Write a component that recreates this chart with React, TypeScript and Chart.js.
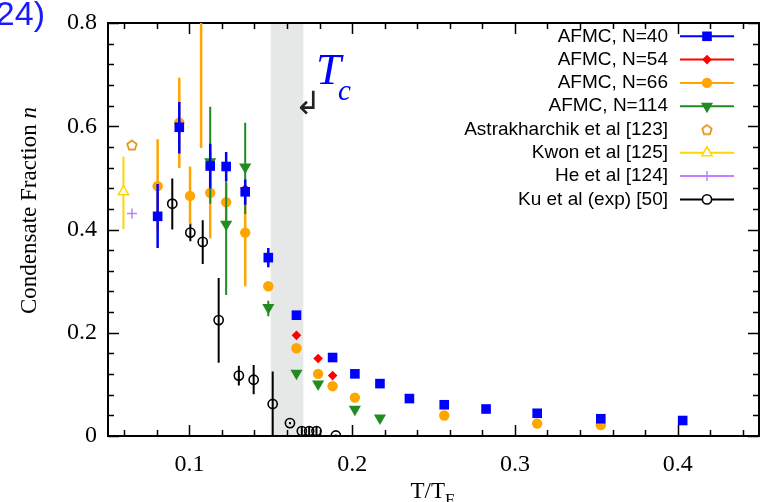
import React, { useEffect, useRef } from 'react';
import { Chart, registerables } from 'chart.js';
import { drawPoint } from 'chart.js/helpers';

Chart.register(...registerables);

// ---------- Data ----------
// AFMC, N=40
const n40T = [0.0805, 0.0938, 0.1128, 0.1226, 0.1343, 0.1485, 0.1658, 0.188, 0.2017, 0.2171, 0.2352, 0.2566, 0.2823, 0.3137, 0.3528, 0.4031];
const n40V = [0.4255, 0.598, 0.523, 0.522, 0.473, 0.3455, 0.234, 0.152, 0.1204, 0.1015, 0.0725, 0.0605, 0.0523, 0.044, 0.0334, 0.03];
const n40Lo = [0.364, 0.547, 0.48, 0.494, 0.448, 0.327, null, null, null, null, null, null, null, null, null, null];
const n40Hi = [0.488, 0.647, 0.566, 0.55, 0.497, 0.364, null, null, null, null, null, null, null, null, null, null];

// AFMC, N=54
const n54T = [0.1343, 0.1658, 0.1791, 0.188];
const n54V = [0.479, 0.195, 0.15, 0.117];
const n54Lo = [null, null, null, null];
const n54Hi = [null, null, null, null];

// AFMC, N=66
const n66T = [0.0805, 0.0938, 0.1004, 0.1072, 0.1128, 0.1226, 0.1343, 0.1485, 0.1658, 0.1791, 0.188, 0.2017, 0.2566, 0.3137, 0.3528];
const n66V = [0.484, 0.607, 0.465, 0.86, 0.471, 0.453, 0.394, 0.29, 0.17, 0.1204, 0.0965, 0.0744, 0.0397, 0.024, 0.021];
const n66Lo = [0.4, 0.519, 0.41, 0.558, 0.383, 0.41, 0.29, null, null, null, null, null, null, null, null];
const n66Hi = [0.575, 0.694, 0.522, 1.2, 0.55, 0.49, 0.46, null, null, null, null, null, null, null, null];

// AFMC, N=114
const n114T = [0.1128, 0.1226, 0.1343, 0.1485, 0.1658, 0.1791, 0.2017, 0.2171];
const n114V = [0.531, 0.41, 0.521, 0.249, 0.1215, 0.1005, 0.052, 0.035];
const n114Lo = [0.45, 0.273, 0.43, 0.232, null, null, null, null];
const n114Hi = [0.638, 0.5, 0.607, 0.262, null, null, null, null];

// Astrakharchik et al [123]
const astraT = [0.0647];
const astraV = [0.564];

// Kwon et al [125]
const kwonT = [0.0595];
const kwonV = [0.473];
const kwonLo = [0.401];
const kwonHi = [0.541];

// He et al [124]
const heT = [0.0647];
const heV = [0.431];

// Ku et al (exp) [50]
const kuT = [0.0895, 0.1006, 0.1082, 0.118, 0.1304, 0.1395, 0.1512, 0.1618, 0.1691, 0.1736, 0.1781, 0.19];
const kuV = [0.45, 0.394, 0.376, 0.2245, 0.117, 0.109, 0.062, 0.025, 0.0095, 0.0095, 0.0095, 0.001];
const kuLo = [0.4, 0.377, 0.333, 0.142, 0.098, 0.081, 0.0, 0.023, 0.0015, 0.0015, 0.0015, 0.0];
const kuHi = [0.499, 0.412, 0.418, 0.306, 0.136, 0.1375, 0.125, 0.027, 0.0175, 0.0175, 0.0175, 0.003];

// Tc band
const tcBand = [0.15, 0.17];

// Axes
const xMin = 0.05;
const xMax = 0.45;
const yMin = 0;
const yMax = 0.8;
const xTickValues = [0.06, 0.08, 0.1, 0.12, 0.14, 0.16, 0.18, 0.2, 0.22, 0.24, 0.26, 0.28, 0.3, 0.32, 0.34, 0.36, 0.38, 0.4, 0.42, 0.44];
const xLabelValues = [0.1, 0.2, 0.3, 0.4];
const yTickValues = [0, 0.04, 0.08, 0.12, 0.16, 0.2, 0.24, 0.28, 0.32, 0.36, 0.4, 0.44, 0.48, 0.52, 0.56, 0.6, 0.64, 0.68, 0.72, 0.76, 0.8];
const yLabelValues = [0, 0.2, 0.4, 0.6, 0.8];

// Texts
const legendLabels = ['AFMC, N=40', 'AFMC, N=54', 'AFMC, N=66', 'AFMC, N=114', 'Astrakharchik et al [123]', 'Kwon et al [125]', 'He et al [124]', 'Ku et al (exp) [50]'];
const xTitleMain = 'T/T';
const xTitleSub = 'F';
const yTitleMain = 'Condensate Fraction ';
const yTitleVar = 'n';
const tcMain = 'T';
const tcSub = 'c';
const tcArrow = '\u21B2';
const refTag = '(124)';

const SERIF = '"Liberation Serif", "Times New Roman", serif';
const SANS = '"Liberation Sans", Arial, sans-serif';

function pts(xs: number[], ys: number[]) {
  return xs.map((x, i) => ({ x, y: ys[i] }));
}

function makePentagon(color: string) {
  const c = document.createElement('canvas');
  c.width = 14;
  c.height = 14;
  const g = c.getContext('2d')!;
  g.strokeStyle = color;
  g.lineWidth = 1.6;
  g.beginPath();
  for (let k = 0; k < 5; k++) {
    const an = -Math.PI / 2 + (k * 2 * Math.PI) / 5;
    const px = 7 + 5 * Math.cos(an);
    const py = 7.6 + 5 * Math.sin(an);
    if (k === 0) g.moveTo(px, py);
    else g.lineTo(px, py);
  }
  g.closePath();
  g.stroke();
  return c;
}

const customPlugin = {
  id: 'customDecor',
  beforeDatasetsDraw(chart: any) {
    const { ctx, chartArea: a, scales } = chart;
    const x = scales.x;
    const y = scales.y;
    ctx.save();
    // Tc band
    const bx1 = x.getPixelForValue(tcBand[0]);
    const bx2 = x.getPixelForValue(tcBand[1]);
    ctx.fillStyle = '#e6e7e7';
    ctx.fillRect(bx1, a.top, bx2 - bx1, a.bottom - a.top);
    // frame
    ctx.strokeStyle = '#000';
    ctx.lineWidth = 2;
    ctx.strokeRect(a.left, a.top, a.right - a.left, a.bottom - a.top);
    // ticks
    ctx.lineWidth = 1.5;
    ctx.beginPath();
    xTickValues.forEach((v) => {
      const px = Math.round(x.getPixelForValue(v)) + 0.5;
      const len = xLabelValues.includes(v) ? 11 : 6;
      ctx.moveTo(px, a.bottom);
      ctx.lineTo(px, a.bottom - len);
      ctx.moveTo(px, a.top);
      ctx.lineTo(px, a.top + len);
    });
    yTickValues.forEach((v) => {
      const py = Math.round(y.getPixelForValue(v)) + 0.5;
      const len = yLabelValues.includes(v) ? 11 : 6;
      ctx.moveTo(a.left, py);
      ctx.lineTo(a.left + len, py);
      ctx.moveTo(a.right, py);
      ctx.lineTo(a.right - len, py);
    });
    ctx.stroke();
    ctx.restore();
  },
  beforeDatasetDraw(chart: any, args: any) {
    const ds = chart.data.datasets[args.index];
    if (!ds.errLo) return;
    const { ctx, chartArea: a, scales } = chart;
    const x = scales.x;
    const y = scales.y;
    ctx.save();
    ctx.beginPath();
    ctx.rect(a.left, a.top, a.right - a.left, a.bottom - a.top + 6);
    ctx.clip();
    ctx.strokeStyle = ds.errColor;
    ctx.lineWidth = ds.errWidth;
    ctx.beginPath();
    ds.data.forEach((p: any, i: number) => {
      const lo = ds.errLo[i];
      const hi = ds.errHi[i];
      if (lo == null || hi == null) return;
      const px = x.getPixelForValue(p.x);
      ctx.moveTo(px, y.getPixelForValue(lo));
      ctx.lineTo(px, y.getPixelForValue(hi));
    });
    ctx.stroke();
    ctx.restore();
  },
  afterDraw(chart: any) {
    const { ctx, chartArea: a } = chart;
    ctx.save();

    // Legend
    const legendTextRight = 668;
    const lineX1 = 680;
    const lineX2 = 734;
    const markX = 707;
    const legendTop = 36.3;
    const legendStep = 23.3;
    chart.data.datasets.forEach((ds: any, i: number) => {
      const yy = legendTop + i * legendStep;
      ctx.font = `19px ${SANS}`;
      ctx.textAlign = 'right';
      ctx.textBaseline = 'middle';
      ctx.fillStyle = '#000';
      ctx.fillText(ds.label, legendTextRight, yy);
      if (ds.legendLine) {
        ctx.strokeStyle = ds.legendLineColor;
        ctx.lineWidth = 2;
        ctx.beginPath();
        ctx.moveTo(lineX1, yy);
        ctx.lineTo(lineX2, yy);
        ctx.stroke();
      }
      ctx.fillStyle = ds.legendFill;
      ctx.strokeStyle = ds.pointBorderColor;
      ctx.lineWidth = ds.pointBorderWidth;
      drawPoint(ctx, {
        pointStyle: ds.pointStyle,
        rotation: ds.pointRotation || 0,
        radius: ds.pointRadius,
        borderWidth: ds.pointBorderWidth,
      } as any, markX, yy);
    });

    // X title
    ctx.fillStyle = '#000';
    ctx.textAlign = 'left';
    ctx.textBaseline = 'alphabetic';
    ctx.font = `23px ${SERIF}`;
    const w1 = ctx.measureText(xTitleMain).width;
    ctx.font = `17px ${SERIF}`;
    const w2 = ctx.measureText(xTitleSub).width;
    const cx = (a.left + a.right) / 2 - 1;
    const sx = cx - (w1 + w2) / 2;
    ctx.font = `23px ${SERIF}`;
    ctx.fillText(xTitleMain, sx, 498);
    ctx.font = `17px ${SERIF}`;
    ctx.fillText(xTitleSub, sx + w1, 505);

    // Y title
    ctx.save();
    ctx.translate(35.5, 210.5);
    ctx.rotate(-Math.PI / 2);
    ctx.font = `23px ${SERIF}`;
    const yw1 = ctx.measureText(yTitleMain).width;
    ctx.font = `italic 23px ${SERIF}`;
    const yw2 = ctx.measureText(yTitleVar).width;
    const ys = -(yw1 + yw2) / 2;
    ctx.font = `23px ${SERIF}`;
    ctx.fillText(yTitleMain, ys, 0);
    ctx.font = `italic 23px ${SERIF}`;
    ctx.fillText(yTitleVar, ys + yw1, 0);
    ctx.restore();

    // Tc label
    ctx.fillStyle = '#0000ff';
    ctx.font = `italic 45px ${SERIF}`;
    ctx.fillText(tcMain, 316, 84);
    ctx.font = `italic 29px ${SERIF}`;
    ctx.fillText(tcSub, 338, 100);

    // Arrow
    ctx.fillStyle = '#222';
    ctx.font = `32px "DejaVu Sans", sans-serif`;
    ctx.textAlign = 'center';
    ctx.textBaseline = 'middle';
    ctx.fillText(tcArrow, 308, 106);

    // reference tag (cut off at left)
    ctx.fillStyle = '#1a1aff';
    ctx.font = `34px ${SANS}`;
    ctx.textAlign = 'right';
    ctx.textBaseline = 'alphabetic';
    ctx.fillText(refTag, 45, 25);

    ctx.restore();
  },
};

export default function App() {
  const canvasRef = useRef<HTMLCanvasElement | null>(null);

  useEffect(() => {
    const canvas = canvasRef.current;
    if (!canvas) return;
    const pentagon = makePentagon('#e08e0b');

    const datasets: any[] = [
      {
        label: legendLabels[0],
        data: pts(n40T, n40V),
        errLo: n40Lo, errHi: n40Hi, errColor: '#0000ff', errWidth: 2.5,
        pointStyle: 'rect', pointRadius: 6.8, pointBorderWidth: 0,
        pointBackgroundColor: '#0000ff', pointBorderColor: '#0000ff',
        legendLine: true, legendLineColor: '#0000ff', legendFill: '#0000ff',
        order: 0,
      },
      {
        label: legendLabels[1],
        data: pts(n54T, n54V),
        errLo: n54Lo, errHi: n54Hi, errColor: '#ff0000', errWidth: 2,
        pointStyle: 'rectRot', pointRadius: 4.8, pointBorderWidth: 0,
        pointBackgroundColor: '#ff0000', pointBorderColor: '#ff0000',
        legendLine: true, legendLineColor: '#ff0000', legendFill: '#ff0000',
        order: 2,
      },
      {
        label: legendLabels[2],
        data: pts(n66T, n66V),
        errLo: n66Lo, errHi: n66Hi, errColor: '#ffa500', errWidth: 2.5,
        pointStyle: 'circle', pointRadius: 5.2, pointBorderWidth: 0,
        pointBackgroundColor: '#ffa500', pointBorderColor: '#ffa500',
        legendLine: true, legendLineColor: '#ffa500', legendFill: '#ffa500',
        order: 3,
      },
      {
        label: legendLabels[3],
        data: pts(n114T, n114V),
        errLo: n114Lo, errHi: n114Hi, errColor: '#228b22', errWidth: 2,
        pointStyle: 'triangle', pointRotation: 180, pointRadius: 7, pointBorderWidth: 0,
        pointBackgroundColor: '#228b22', pointBorderColor: '#228b22',
        legendLine: true, legendLineColor: '#228b22', legendFill: '#228b22',
        order: 1,
      },
      {
        label: legendLabels[4],
        data: pts(astraT, astraV),
        pointStyle: pentagon, pointRadius: 5, pointBorderWidth: 0,
        pointBackgroundColor: '#e08e0b', pointBorderColor: '#e08e0b',
        legendLine: false, legendLineColor: '#e08e0b', legendFill: '#e08e0b',
        order: 5,
      },
      {
        label: legendLabels[5],
        data: pts(kwonT, kwonV),
        errLo: kwonLo, errHi: kwonHi, errColor: '#ffd700', errWidth: 2,
        pointStyle: 'triangle', pointRadius: 6, pointBorderWidth: 1.5,
        pointBackgroundColor: '#ffffff', pointBorderColor: '#ffd700',
        legendLine: true, legendLineColor: '#ffd700', legendFill: '#ffffff',
        order: 6,
      },
      {
        label: legendLabels[6],
        data: pts(heT, heV),
        pointStyle: 'cross', pointRadius: 5, pointBorderWidth: 1.5,
        pointBackgroundColor: '#c080ff', pointBorderColor: '#c080ff',
        legendLine: true, legendLineColor: '#c080ff', legendFill: '#c080ff',
        order: 7,
      },
      {
        label: legendLabels[7],
        data: pts(kuT, kuV),
        errLo: kuLo, errHi: kuHi, errColor: '#000000', errWidth: 2,
        pointStyle: 'circle', pointRadius: 4.6, pointBorderWidth: 1.6,
        pointBackgroundColor: 'rgba(0,0,0,0)', pointBorderColor: '#000000',
        legendLine: true, legendLineColor: '#000000', legendFill: '#ffffff',
        order: 4,
      },
    ];

    const chart = new Chart(canvas, {
      type: 'scatter',
      data: { datasets },
      options: {
        animation: false,
        responsive: false,
        devicePixelRatio: 1,
        events: [],
        layout: { padding: { top: 13, right: 8, left: 0, bottom: 0 } },
        plugins: {
          legend: { display: false },
          tooltip: { enabled: false },
        },
        scales: {
          x: {
            type: 'linear',
            min: xMin,
            max: xMax,
            afterBuildTicks: (s: any) => {
              s.ticks = xTickValues.map((v) => ({ value: v }));
            },
            afterFit: (s: any) => {
              s.height = 66;
            },
            grid: { display: false, drawTicks: false },
            border: { display: false },
            ticks: {
              autoSkip: false,
              maxRotation: 0,
              padding: 17,
              color: '#000',
              font: { family: SERIF, size: 24, lineHeight: 1 },
              callback: (v: any) => (xLabelValues.includes(v) ? String(v) : ''),
            },
          },
          y: {
            type: 'linear',
            min: yMin,
            max: yMax,
            afterBuildTicks: (s: any) => {
              s.ticks = yTickValues.map((v) => ({ value: v }));
            },
            afterFit: (s: any) => {
              s.width = 108;
            },
            grid: { display: false, drawTicks: false },
            border: { display: false },
            ticks: {
              autoSkip: false,
              padding: 11,
              color: '#000',
              font: { family: SERIF, size: 24, lineHeight: 1 },
              callback: (v: any) => (yLabelValues.includes(v) ? String(v) : ''),
            },
          },
        },
      } as any,
      plugins: [customPlugin as any],
    });

    return () => {
      chart.destroy();
    };
  }, []);

  return (
    <div style={{ position: 'fixed', left: 0, top: 0, width: 767, height: 502, background: '#fff' }}>
      <canvas ref={canvasRef} width={767} height={502} style={{ display: 'block' }} />
    </div>
  );
}
